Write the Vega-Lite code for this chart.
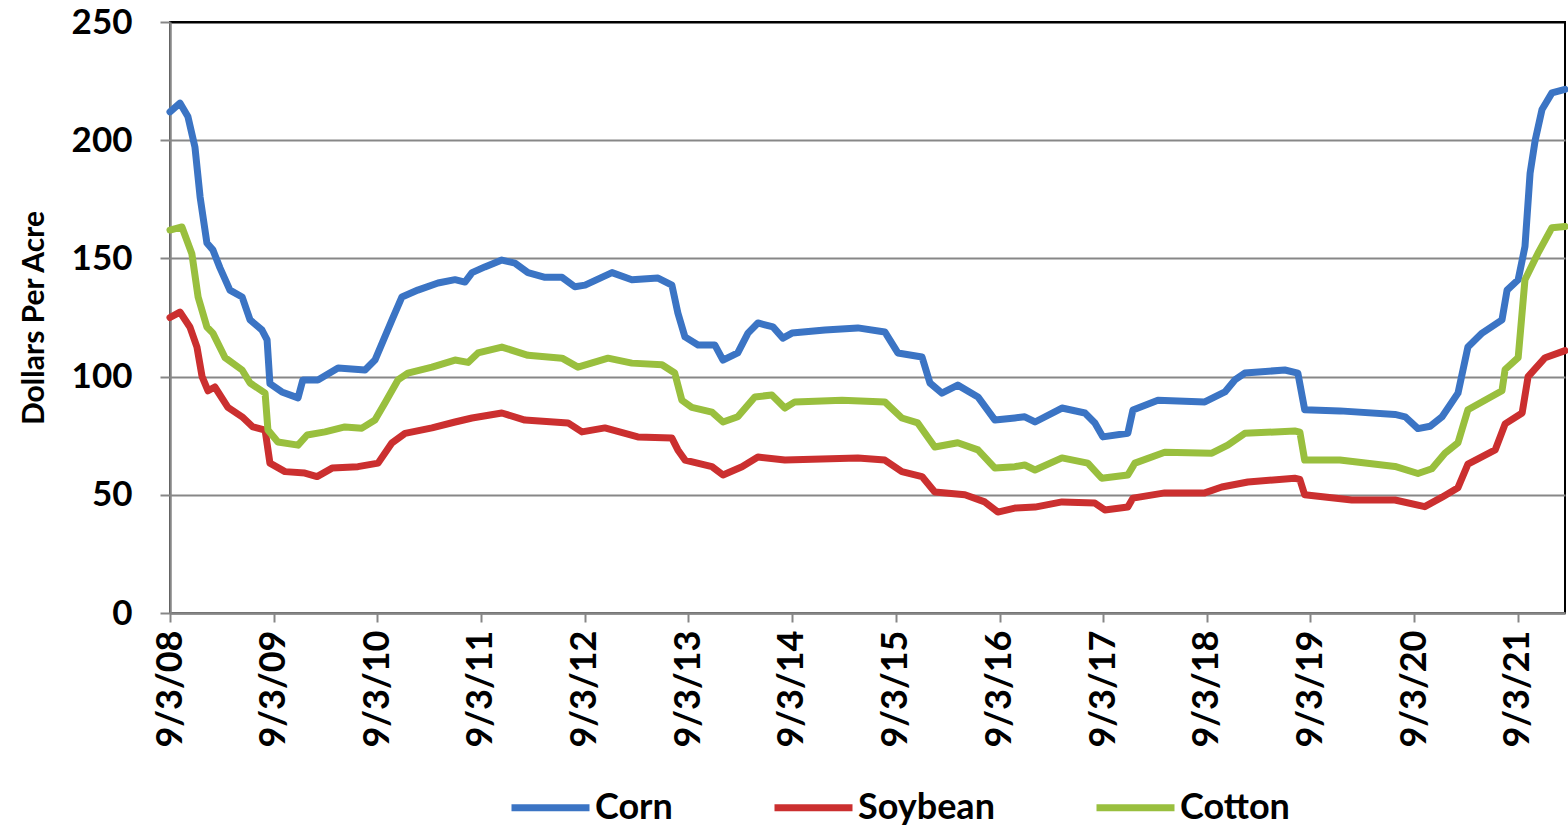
{
  "$schema": "https://vega.github.io/schema/vega-lite/v6.json",
  "width": 1395,
  "height": 591,
  "autosize": "none",
  "padding": {"left": 170, "top": 22, "right": 3, "bottom": 214},
  "background": "white",
  "config": {
    "font": "Lato",
    "view": {"stroke": "black", "strokeWidth": 2}
  },
  "data": {"values": [
      {"c": "Corn", "d": "2008-09-03", "v": 212}, {"c": "Corn", "d": "2008-10-08", "v": 215.7}, {"c": "Corn", "d": "2008-11-05", "v": 210}, {"c": "Corn", "d": "2008-11-30", "v": 197},
      {"c": "Corn", "d": "2008-12-18", "v": 176}, {"c": "Corn", "d": "2009-01-11", "v": 156.5}, {"c": "Corn", "d": "2009-02-01", "v": 153.6}, {"c": "Corn", "d": "2009-02-26", "v": 146},
      {"c": "Corn", "d": "2009-04-02", "v": 136.6}, {"c": "Corn", "d": "2009-05-15", "v": 133.7}, {"c": "Corn", "d": "2009-06-12", "v": 124}, {"c": "Corn", "d": "2009-07-24", "v": 119.7},
      {"c": "Corn", "d": "2009-08-11", "v": 115.5}, {"c": "Corn", "d": "2009-08-21", "v": 97}, {"c": "Corn", "d": "2009-10-02", "v": 93.5}, {"c": "Corn", "d": "2009-11-28", "v": 91},
      {"c": "Corn", "d": "2009-12-15", "v": 98.6}, {"c": "Corn", "d": "2010-02-06", "v": 98.6}, {"c": "Corn", "d": "2010-04-18", "v": 103.6}, {"c": "Corn", "d": "2010-07-22", "v": 102.8},
      {"c": "Corn", "d": "2010-08-26", "v": 107}, {"c": "Corn", "d": "2010-10-25", "v": 124}, {"c": "Corn", "d": "2010-11-29", "v": 133.7}, {"c": "Corn", "d": "2011-01-24", "v": 136.6},
      {"c": "Corn", "d": "2011-04-05", "v": 139.6}, {"c": "Corn", "d": "2011-06-04", "v": 141}, {"c": "Corn", "d": "2011-07-09", "v": 140}, {"c": "Corn", "d": "2011-08-03", "v": 144},
      {"c": "Corn", "d": "2011-09-17", "v": 146.4}, {"c": "Corn", "d": "2011-11-16", "v": 149.3}, {"c": "Corn", "d": "2012-01-01", "v": 148}, {"c": "Corn", "d": "2012-02-16", "v": 144},
      {"c": "Corn", "d": "2012-04-16", "v": 142}, {"c": "Corn", "d": "2012-06-15", "v": 142}, {"c": "Corn", "d": "2012-07-30", "v": 138}, {"c": "Corn", "d": "2012-09-04", "v": 138.7},
      {"c": "Corn", "d": "2012-12-08", "v": 144}, {"c": "Corn", "d": "2013-02-16", "v": 141}, {"c": "Corn", "d": "2013-05-19", "v": 141.7}, {"c": "Corn", "d": "2013-07-07", "v": 138.7},
      {"c": "Corn", "d": "2013-07-28", "v": 126.9}, {"c": "Corn", "d": "2013-08-22", "v": 116.8}, {"c": "Corn", "d": "2013-10-07", "v": 113.4}, {"c": "Corn", "d": "2013-12-05", "v": 113.4},
      {"c": "Corn", "d": "2014-01-03", "v": 107}, {"c": "Corn", "d": "2014-02-24", "v": 110}, {"c": "Corn", "d": "2014-04-01", "v": 118.4}, {"c": "Corn", "d": "2014-05-06", "v": 122.7},
      {"c": "Corn", "d": "2014-06-28", "v": 121}, {"c": "Corn", "d": "2014-08-02", "v": 116.3}, {"c": "Corn", "d": "2014-09-03", "v": 118.4}, {"c": "Corn", "d": "2014-12-28", "v": 119.7},
      {"c": "Corn", "d": "2015-04-23", "v": 120.6}, {"c": "Corn", "d": "2015-07-27", "v": 118.9}, {"c": "Corn", "d": "2015-09-11", "v": 110}, {"c": "Corn", "d": "2015-12-05", "v": 108.3},
      {"c": "Corn", "d": "2016-01-02", "v": 97.3}, {"c": "Corn", "d": "2016-02-13", "v": 93}, {"c": "Corn", "d": "2016-04-09", "v": 96.4}, {"c": "Corn", "d": "2016-06-19", "v": 91.4},
      {"c": "Corn", "d": "2016-08-18", "v": 81.6}, {"c": "Corn", "d": "2016-10-27", "v": 82.5}, {"c": "Corn", "d": "2016-12-01", "v": 83}, {"c": "Corn", "d": "2017-01-06", "v": 80.8},
      {"c": "Corn", "d": "2017-04-11", "v": 86.7}, {"c": "Corn", "d": "2017-07-01", "v": 84.6}, {"c": "Corn", "d": "2017-08-05", "v": 80.4}, {"c": "Corn", "d": "2017-09-02", "v": 74.5},
      {"c": "Corn", "d": "2017-11-29", "v": 76}, {"c": "Corn", "d": "2017-12-17", "v": 85.9}, {"c": "Corn", "d": "2018-03-15", "v": 90}, {"c": "Corn", "d": "2018-08-27", "v": 89.3},
      {"c": "Corn", "d": "2018-11-06", "v": 93.5}, {"c": "Corn", "d": "2018-12-11", "v": 98.6}, {"c": "Corn", "d": "2019-01-15", "v": 101.5}, {"c": "Corn", "d": "2019-06-05", "v": 102.8},
      {"c": "Corn", "d": "2019-07-21", "v": 101.5}, {"c": "Corn", "d": "2019-08-14", "v": 86}, {"c": "Corn", "d": "2019-12-16", "v": 85.5}, {"c": "Corn", "d": "2020-06-27", "v": 84},
      {"c": "Corn", "d": "2020-08-02", "v": 83}, {"c": "Corn", "d": "2020-09-16", "v": 78}, {"c": "Corn", "d": "2020-10-29", "v": 79}, {"c": "Corn", "d": "2020-12-10", "v": 83},
      {"c": "Corn", "d": "2021-02-04", "v": 93}, {"c": "Corn", "d": "2021-03-11", "v": 112.5}, {"c": "Corn", "d": "2021-04-30", "v": 118.4}, {"c": "Corn", "d": "2021-07-09", "v": 124},
      {"c": "Corn", "d": "2021-07-27", "v": 136.6}, {"c": "Corn", "d": "2021-09-04", "v": 141}, {"c": "Corn", "d": "2021-09-28", "v": 155}, {"c": "Corn", "d": "2021-10-16", "v": 186},
      {"c": "Corn", "d": "2021-11-03", "v": 200}, {"c": "Corn", "d": "2021-11-27", "v": 213}, {"c": "Corn", "d": "2022-01-01", "v": 220}, {"c": "Corn", "d": "2022-02-16", "v": 221.5},
      {"c": "Soybean", "d": "2008-09-03", "v": 125}, {"c": "Soybean", "d": "2008-10-08", "v": 127.3}, {"c": "Soybean", "d": "2008-11-12", "v": 121}, {"c": "Soybean", "d": "2008-12-07", "v": 112.5},
      {"c": "Soybean", "d": "2008-12-25", "v": 100}, {"c": "Soybean", "d": "2009-01-15", "v": 94}, {"c": "Soybean", "d": "2009-02-08", "v": 95.6}, {"c": "Soybean", "d": "2009-03-26", "v": 87},
      {"c": "Soybean", "d": "2009-05-15", "v": 83}, {"c": "Soybean", "d": "2009-06-22", "v": 78.7}, {"c": "Soybean", "d": "2009-08-04", "v": 77.4}, {"c": "Soybean", "d": "2009-08-21", "v": 63.4},
      {"c": "Soybean", "d": "2009-10-13", "v": 59.8}, {"c": "Soybean", "d": "2009-12-22", "v": 59.2}, {"c": "Soybean", "d": "2010-02-03", "v": 57.7}, {"c": "Soybean", "d": "2010-03-28", "v": 61.3},
      {"c": "Soybean", "d": "2010-06-27", "v": 61.9}, {"c": "Soybean", "d": "2010-09-06", "v": 63.4}, {"c": "Soybean", "d": "2010-10-25", "v": 72}, {"c": "Soybean", "d": "2010-12-10", "v": 76},
      {"c": "Soybean", "d": "2011-03-15", "v": 78.3}, {"c": "Soybean", "d": "2011-06-04", "v": 80.8}, {"c": "Soybean", "d": "2011-08-03", "v": 82.5}, {"c": "Soybean", "d": "2011-11-16", "v": 84.6},
      {"c": "Soybean", "d": "2012-02-05", "v": 81.6}, {"c": "Soybean", "d": "2012-07-06", "v": 80.4}, {"c": "Soybean", "d": "2012-08-24", "v": 76.6}, {"c": "Soybean", "d": "2012-11-13", "v": 78.3},
      {"c": "Soybean", "d": "2013-03-09", "v": 74.5}, {"c": "Soybean", "d": "2013-07-07", "v": 74}, {"c": "Soybean", "d": "2013-07-28", "v": 69}, {"c": "Soybean", "d": "2013-08-22", "v": 64.7},
      {"c": "Soybean", "d": "2013-11-25", "v": 61.9}, {"c": "Soybean", "d": "2014-01-03", "v": 58.4}, {"c": "Soybean", "d": "2014-03-11", "v": 61.9}, {"c": "Soybean", "d": "2014-05-06", "v": 66},
      {"c": "Soybean", "d": "2014-08-09", "v": 64.7}, {"c": "Soybean", "d": "2015-04-23", "v": 65.6}, {"c": "Soybean", "d": "2015-07-27", "v": 64.7}, {"c": "Soybean", "d": "2015-09-25", "v": 59.8},
      {"c": "Soybean", "d": "2015-12-05", "v": 57.7}, {"c": "Soybean", "d": "2016-01-19", "v": 51.2}, {"c": "Soybean", "d": "2016-05-04", "v": 50}, {"c": "Soybean", "d": "2016-07-13", "v": 47},
      {"c": "Soybean", "d": "2016-08-28", "v": 42.7}, {"c": "Soybean", "d": "2016-10-27", "v": 44.4}, {"c": "Soybean", "d": "2017-01-06", "v": 44.8}, {"c": "Soybean", "d": "2017-04-11", "v": 47},
      {"c": "Soybean", "d": "2017-08-05", "v": 46.5}, {"c": "Soybean", "d": "2017-09-09", "v": 43.6}, {"c": "Soybean", "d": "2017-11-29", "v": 44.8}, {"c": "Soybean", "d": "2017-12-17", "v": 48.6},
      {"c": "Soybean", "d": "2018-04-08", "v": 50.8}, {"c": "Soybean", "d": "2018-08-27", "v": 50.8}, {"c": "Soybean", "d": "2018-10-26", "v": 53.3}, {"c": "Soybean", "d": "2019-01-26", "v": 55.4},
      {"c": "Soybean", "d": "2019-07-10", "v": 57}, {"c": "Soybean", "d": "2019-07-28", "v": 56.5}, {"c": "Soybean", "d": "2019-08-14", "v": 50}, {"c": "Soybean", "d": "2020-01-27", "v": 47.8},
      {"c": "Soybean", "d": "2020-06-27", "v": 47.8}, {"c": "Soybean", "d": "2020-10-10", "v": 45}, {"c": "Soybean", "d": "2020-12-10", "v": 49}, {"c": "Soybean", "d": "2021-02-04", "v": 53},
      {"c": "Soybean", "d": "2021-03-11", "v": 63}, {"c": "Soybean", "d": "2021-06-15", "v": 69}, {"c": "Soybean", "d": "2021-07-20", "v": 80}, {"c": "Soybean", "d": "2021-09-18", "v": 84.6},
      {"c": "Soybean", "d": "2021-10-09", "v": 100}, {"c": "Soybean", "d": "2021-12-08", "v": 108}, {"c": "Soybean", "d": "2022-02-16", "v": 111},
      {"c": "Cotton", "d": "2008-09-03", "v": 162}, {"c": "Cotton", "d": "2008-10-15", "v": 163.3}, {"c": "Cotton", "d": "2008-11-19", "v": 152}, {"c": "Cotton", "d": "2008-12-11", "v": 133.7},
      {"c": "Cotton", "d": "2009-01-11", "v": 121}, {"c": "Cotton", "d": "2009-02-01", "v": 118.4}, {"c": "Cotton", "d": "2009-03-16", "v": 108}, {"c": "Cotton", "d": "2009-05-15", "v": 102.8},
      {"c": "Cotton", "d": "2009-06-12", "v": 97.3}, {"c": "Cotton", "d": "2009-08-04", "v": 93}, {"c": "Cotton", "d": "2009-08-14", "v": 77.4}, {"c": "Cotton", "d": "2009-09-18", "v": 72.3},
      {"c": "Cotton", "d": "2009-11-28", "v": 71}, {"c": "Cotton", "d": "2009-12-30", "v": 75.3}, {"c": "Cotton", "d": "2010-03-03", "v": 76.6}, {"c": "Cotton", "d": "2010-05-12", "v": 78.7},
      {"c": "Cotton", "d": "2010-07-11", "v": 78.2}, {"c": "Cotton", "d": "2010-08-26", "v": 81.6}, {"c": "Cotton", "d": "2010-09-30", "v": 88.8}, {"c": "Cotton", "d": "2010-11-15", "v": 98.6},
      {"c": "Cotton", "d": "2010-12-20", "v": 101.5}, {"c": "Cotton", "d": "2011-03-15", "v": 104}, {"c": "Cotton", "d": "2011-06-04", "v": 107}, {"c": "Cotton", "d": "2011-07-20", "v": 106},
      {"c": "Cotton", "d": "2011-08-24", "v": 110}, {"c": "Cotton", "d": "2011-11-16", "v": 112.5}, {"c": "Cotton", "d": "2012-02-16", "v": 109}, {"c": "Cotton", "d": "2012-06-15", "v": 107.8},
      {"c": "Cotton", "d": "2012-08-10", "v": 104}, {"c": "Cotton", "d": "2012-11-24", "v": 107.8}, {"c": "Cotton", "d": "2013-02-16", "v": 105.7}, {"c": "Cotton", "d": "2013-06-02", "v": 105},
      {"c": "Cotton", "d": "2013-07-17", "v": 101.5}, {"c": "Cotton", "d": "2013-08-11", "v": 90}, {"c": "Cotton", "d": "2013-09-15", "v": 87}, {"c": "Cotton", "d": "2013-11-25", "v": 85},
      {"c": "Cotton", "d": "2014-01-03", "v": 80.8}, {"c": "Cotton", "d": "2014-02-24", "v": 83}, {"c": "Cotton", "d": "2014-04-25", "v": 91.4}, {"c": "Cotton", "d": "2014-06-24", "v": 92.2},
      {"c": "Cotton", "d": "2014-08-09", "v": 86.7}, {"c": "Cotton", "d": "2014-09-13", "v": 89.3}, {"c": "Cotton", "d": "2015-02-26", "v": 90}, {"c": "Cotton", "d": "2015-07-27", "v": 89.3},
      {"c": "Cotton", "d": "2015-09-25", "v": 82.5}, {"c": "Cotton", "d": "2015-11-20", "v": 80.4}, {"c": "Cotton", "d": "2016-01-19", "v": 70.2}, {"c": "Cotton", "d": "2016-04-09", "v": 72},
      {"c": "Cotton", "d": "2016-06-19", "v": 69}, {"c": "Cotton", "d": "2016-08-18", "v": 61.3}, {"c": "Cotton", "d": "2016-10-27", "v": 61.9}, {"c": "Cotton", "d": "2016-12-01", "v": 62.6},
      {"c": "Cotton", "d": "2017-01-06", "v": 60.5}, {"c": "Cotton", "d": "2017-04-11", "v": 65.6}, {"c": "Cotton", "d": "2017-07-11", "v": 63.4}, {"c": "Cotton", "d": "2017-08-29", "v": 57},
      {"c": "Cotton", "d": "2017-11-29", "v": 58.4}, {"c": "Cotton", "d": "2017-12-24", "v": 63.4}, {"c": "Cotton", "d": "2018-04-08", "v": 68}, {"c": "Cotton", "d": "2018-09-21", "v": 67.6},
      {"c": "Cotton", "d": "2018-11-16", "v": 71}, {"c": "Cotton", "d": "2019-01-15", "v": 76}, {"c": "Cotton", "d": "2019-07-10", "v": 77}, {"c": "Cotton", "d": "2019-07-28", "v": 76.5},
      {"c": "Cotton", "d": "2019-08-14", "v": 64.7}, {"c": "Cotton", "d": "2019-12-16", "v": 64.7}, {"c": "Cotton", "d": "2020-06-27", "v": 62}, {"c": "Cotton", "d": "2020-09-16", "v": 59},
      {"c": "Cotton", "d": "2020-11-04", "v": 61}, {"c": "Cotton", "d": "2020-12-20", "v": 67.6}, {"c": "Cotton", "d": "2021-02-04", "v": 72}, {"c": "Cotton", "d": "2021-03-11", "v": 86},
      {"c": "Cotton", "d": "2021-05-10", "v": 90}, {"c": "Cotton", "d": "2021-07-09", "v": 94}, {"c": "Cotton", "d": "2021-07-20", "v": 103}, {"c": "Cotton", "d": "2021-09-04", "v": 108},
      {"c": "Cotton", "d": "2021-09-28", "v": 141}, {"c": "Cotton", "d": "2021-11-12", "v": 152}, {"c": "Cotton", "d": "2022-01-01", "v": 163}, {"c": "Cotton", "d": "2022-02-16", "v": 163.5}
  ]},
  "mark": {"type": "line", "strokeWidth": 7, "strokeJoin": "round", "strokeCap": "round"},
  "encoding": {
    "x": {
      "field": "d", "type": "temporal",
      "scale": {"type": "utc", "domain": [{"year": 2008, "month": 9, "date": 3, "utc": true}, {"year": 2022, "month": 2, "date": 16, "utc": true}], "nice": false},
      "axis": {
        "title": null,
        "values": [
          {"year": 2008, "month": 9, "date": 3, "utc": true}, {"year": 2009, "month": 9, "date": 3, "utc": true},
          {"year": 2010, "month": 9, "date": 3, "utc": true}, {"year": 2011, "month": 9, "date": 3, "utc": true},
          {"year": 2012, "month": 9, "date": 3, "utc": true}, {"year": 2013, "month": 9, "date": 3, "utc": true},
          {"year": 2014, "month": 9, "date": 3, "utc": true}, {"year": 2015, "month": 9, "date": 3, "utc": true},
          {"year": 2016, "month": 9, "date": 3, "utc": true}, {"year": 2017, "month": 9, "date": 3, "utc": true},
          {"year": 2018, "month": 9, "date": 3, "utc": true}, {"year": 2019, "month": 9, "date": 3, "utc": true},
          {"year": 2020, "month": 9, "date": 3, "utc": true}, {"year": 2021, "month": 9, "date": 3, "utc": true}
        ],
        "labelExpr": "utcFormat(datum.value, '%-m/%-d/%y')",
        "labelAngle": 270,
        "labelFontSize": 36,
        "labelFontWeight": "bold",
        "labelColor": "black",
        "labelPadding": 8,
        "labelFlush": false,
        "labelOverlap": false,
        "grid": false,
        "domainColor": "#868686",
        "domainWidth": 2.5,
        "tickColor": "#868686",
        "tickWidth": 2,
        "tickSize": 9
      }
    },
    "y": {
      "field": "v", "type": "quantitative",
      "scale": {"domain": [0, 250], "nice": false},
      "axis": {
        "title": "Dollars Per Acre",
        "titleFontSize": 30,
        "titleFontWeight": "bold",
        "titleColor": "black",
        "titlePadding": 22,
        "values": [0, 50, 100, 150, 200, 250],
        "labelFontSize": 35,
        "labelFontWeight": "bold",
        "labelColor": "black",
        "labelPadding": 28,
        "labelFlush": false,
        "grid": true,
        "gridColor": {"condition": {"test": "datum.value === 250", "value": "black"}, "value": "#878787"},
        "gridWidth": 2,
        "domainColor": "#868686",
        "domainWidth": 2.5,
        "tickColor": "#868686",
        "tickWidth": 2,
        "tickSize": 10
      }
    },
    "color": {
      "field": "c", "type": "nominal",
      "scale": {"domain": ["Corn", "Soybean", "Cotton"], "range": ["#3B74C4", "#CB2F2F", "#99BF3E"]},
      "legend": {
        "title": null,
        "orient": "none",
        "direction": "horizontal",
        "legendX": 338,
        "legendY": 743,
        "symbolType": "stroke",
        "symbolSize": 6084,
        "symbolStrokeWidth": 7,
        "labelFontSize": 36,
        "labelFontWeight": "bold",
        "labelColor": "black",
        "labelOffset": 2,
        "columnPadding": 87,
        "labelLimit": 400
      }
    }
  }
}
